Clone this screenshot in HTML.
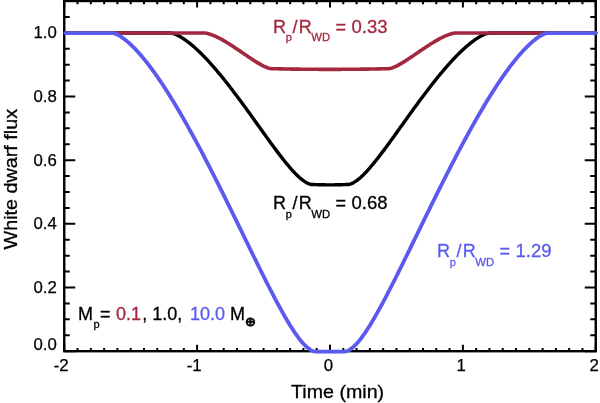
<!DOCTYPE html>
<html><head><meta charset="utf-8"><title>White dwarf flux</title>
<style>
html,body{margin:0;padding:0;background:#fff;}
body{width:600px;height:403px;overflow:hidden;}
svg{display:block;font-family:"Liberation Sans",Arial,Helvetica,sans-serif;}
</style></head><body>
<svg width="600" height="403" viewBox="0 0 600 403">
<rect width="600" height="403" fill="#fff"/>
<rect x="64.25" y="1.00" width="531.50" height="350.20" fill="none" stroke="#000" stroke-width="2.4"/>
<path d="M64.25 351.20v-6.40M64.25 1.00v6.40M77.54 351.20v-3.30M77.54 1.00v3.30M90.82 351.20v-3.30M90.82 1.00v3.30M104.11 351.20v-3.30M104.11 1.00v3.30M117.40 351.20v-3.30M117.40 1.00v3.30M130.69 351.20v-3.30M130.69 1.00v3.30M143.98 351.20v-3.30M143.98 1.00v3.30M157.26 351.20v-3.30M157.26 1.00v3.30M170.55 351.20v-3.30M170.55 1.00v3.30M183.84 351.20v-3.30M183.84 1.00v3.30M197.12 351.20v-6.40M197.12 1.00v6.40M210.41 351.20v-3.30M210.41 1.00v3.30M223.70 351.20v-3.30M223.70 1.00v3.30M236.99 351.20v-3.30M236.99 1.00v3.30M250.28 351.20v-3.30M250.28 1.00v3.30M263.56 351.20v-3.30M263.56 1.00v3.30M276.85 351.20v-3.30M276.85 1.00v3.30M290.14 351.20v-3.30M290.14 1.00v3.30M303.43 351.20v-3.30M303.43 1.00v3.30M316.71 351.20v-3.30M316.71 1.00v3.30M330.00 351.20v-6.40M330.00 1.00v6.40M343.29 351.20v-3.30M343.29 1.00v3.30M356.58 351.20v-3.30M356.58 1.00v3.30M369.86 351.20v-3.30M369.86 1.00v3.30M383.15 351.20v-3.30M383.15 1.00v3.30M396.44 351.20v-3.30M396.44 1.00v3.30M409.73 351.20v-3.30M409.73 1.00v3.30M423.01 351.20v-3.30M423.01 1.00v3.30M436.30 351.20v-3.30M436.30 1.00v3.30M449.59 351.20v-3.30M449.59 1.00v3.30M462.88 351.20v-6.40M462.88 1.00v6.40M476.16 351.20v-3.30M476.16 1.00v3.30M489.45 351.20v-3.30M489.45 1.00v3.30M502.74 351.20v-3.30M502.74 1.00v3.30M516.03 351.20v-3.30M516.03 1.00v3.30M529.31 351.20v-3.30M529.31 1.00v3.30M542.60 351.20v-3.30M542.60 1.00v3.30M555.89 351.20v-3.30M555.89 1.00v3.30M569.17 351.20v-3.30M569.17 1.00v3.30M582.46 351.20v-3.30M582.46 1.00v3.30M595.75 351.20v-6.40M595.75 1.00v6.40M64.25 351.20h11.00M595.75 351.20h-11.00M64.25 335.28h5.50M595.75 335.28h-5.50M64.25 319.36h5.50M595.75 319.36h-5.50M64.25 303.45h5.50M595.75 303.45h-5.50M64.25 287.53h11.00M595.75 287.53h-11.00M64.25 271.61h5.50M595.75 271.61h-5.50M64.25 255.69h5.50M595.75 255.69h-5.50M64.25 239.77h5.50M595.75 239.77h-5.50M64.25 223.85h11.00M595.75 223.85h-11.00M64.25 207.94h5.50M595.75 207.94h-5.50M64.25 192.02h5.50M595.75 192.02h-5.50M64.25 176.10h5.50M595.75 176.10h-5.50M64.25 160.18h11.00M595.75 160.18h-11.00M64.25 144.26h5.50M595.75 144.26h-5.50M64.25 128.35h5.50M595.75 128.35h-5.50M64.25 112.43h5.50M595.75 112.43h-5.50M64.25 96.51h11.00M595.75 96.51h-11.00M64.25 80.59h5.50M595.75 80.59h-5.50M64.25 64.67h5.50M595.75 64.67h-5.50M64.25 48.75h5.50M595.75 48.75h-5.50M64.25 32.84h11.00M595.75 32.84h-11.00M64.25 16.92h5.50M595.75 16.92h-5.50M64.25 1.00h5.50M595.75 1.00h-5.50" fill="none" stroke="#000" stroke-width="2"/>
<path d="M65.40 33.04 L170.55 33.04 L171.88 33.23 L173.21 33.56 L174.54 34.00 L175.86 34.53 L177.19 35.13 L178.52 35.80 L179.85 36.52 L181.18 37.29 L182.51 38.10 L183.84 38.97 L185.17 39.88 L186.50 40.83 L187.82 41.83 L189.15 42.85 L190.48 43.91 L191.81 45.00 L193.14 46.13 L194.47 47.29 L195.80 48.49 L197.12 49.72 L198.45 50.97 L199.78 52.24 L201.11 53.54 L202.44 54.87 L203.77 56.22 L205.10 57.60 L206.43 59.01 L207.75 60.43 L209.08 61.87 L210.41 63.34 L211.74 64.82 L213.07 66.33 L214.40 67.85 L215.73 69.41 L217.06 70.98 L218.38 72.55 L219.71 74.15 L221.04 75.76 L222.37 77.39 L223.70 79.03 L225.03 80.70 L226.36 82.38 L227.69 84.06 L229.01 85.76 L230.34 87.47 L231.67 89.20 L233.00 90.93 L234.33 92.69 L235.66 94.45 L236.99 96.22 L238.32 98.00 L239.65 99.79 L240.97 101.58 L242.30 103.38 L243.63 105.21 L244.96 107.03 L246.29 108.86 L247.62 110.69 L248.95 112.53 L250.28 114.36 L251.60 116.21 L252.93 118.07 L254.26 119.93 L255.59 121.78 L256.92 123.64 L258.25 125.50 L259.58 127.35 L260.90 129.21 L262.23 131.07 L263.56 132.93 L264.89 134.78 L266.22 136.63 L267.55 138.47 L268.88 140.30 L270.21 142.13 L271.53 143.96 L272.86 145.77 L274.19 147.58 L275.52 149.36 L276.85 151.13 L278.18 152.89 L279.51 154.63 L280.84 156.37 L282.17 158.09 L283.49 159.78 L284.82 161.44 L286.15 163.07 L287.48 164.67 L288.81 166.25 L290.14 167.81 L291.47 169.33 L292.79 170.80 L294.12 172.23 L295.45 173.61 L296.78 174.93 L298.11 176.21 L299.44 177.44 L300.77 178.60 L302.10 179.68 L303.43 180.69 L304.75 181.60 L306.08 182.41 L307.41 183.14 L308.74 183.75 L310.07 184.23 L311.40 184.48 L312.73 184.53 L314.06 184.57 L315.38 184.61 L316.71 184.65 L318.04 184.69 L319.37 184.74 L320.70 184.77 L322.03 184.80 L323.36 184.80 L324.69 184.81 L326.01 184.83 L327.34 184.84 L328.67 184.86 L330.00 184.86 L331.33 184.86 L332.66 184.84 L333.99 184.83 L335.31 184.81 L336.64 184.80 L337.97 184.80 L339.30 184.77 L340.63 184.74 L341.96 184.69 L343.29 184.65 L344.62 184.61 L345.94 184.57 L347.27 184.53 L348.60 184.48 L349.93 184.23 L351.26 183.75 L352.59 183.14 L353.92 182.41 L355.25 181.60 L356.58 180.69 L357.90 179.68 L359.23 178.60 L360.56 177.44 L361.89 176.21 L363.22 174.93 L364.55 173.61 L365.88 172.23 L367.21 170.80 L368.53 169.33 L369.86 167.81 L371.19 166.25 L372.52 164.67 L373.85 163.07 L375.18 161.44 L376.51 159.78 L377.83 158.09 L379.16 156.37 L380.49 154.63 L381.82 152.89 L383.15 151.13 L384.48 149.36 L385.81 147.58 L387.14 145.77 L388.46 143.96 L389.79 142.13 L391.12 140.30 L392.45 138.47 L393.78 136.63 L395.11 134.78 L396.44 132.93 L397.77 131.07 L399.10 129.21 L400.42 127.35 L401.75 125.50 L403.08 123.64 L404.41 121.78 L405.74 119.93 L407.07 118.07 L408.40 116.21 L409.73 114.36 L411.05 112.53 L412.38 110.69 L413.71 108.86 L415.04 107.03 L416.37 105.21 L417.70 103.38 L419.03 101.58 L420.36 99.79 L421.68 98.00 L423.01 96.22 L424.34 94.45 L425.67 92.69 L427.00 90.93 L428.33 89.20 L429.66 87.47 L430.99 85.76 L432.31 84.06 L433.64 82.38 L434.97 80.70 L436.30 79.03 L437.63 77.39 L438.96 75.76 L440.29 74.15 L441.62 72.55 L442.94 70.98 L444.27 69.41 L445.60 67.85 L446.93 66.33 L448.26 64.82 L449.59 63.34 L450.92 61.87 L452.25 60.43 L453.57 59.01 L454.90 57.60 L456.23 56.22 L457.56 54.87 L458.89 53.54 L460.22 52.24 L461.55 50.97 L462.88 49.72 L464.20 48.49 L465.53 47.29 L466.86 46.13 L468.19 45.00 L469.52 43.91 L470.85 42.85 L472.18 41.83 L473.50 40.83 L474.83 39.88 L476.16 38.97 L477.49 38.10 L478.82 37.29 L480.15 36.52 L481.48 35.80 L482.81 35.13 L484.13 34.53 L485.46 34.00 L486.79 33.56 L488.12 33.23 L489.45 33.04 L595.75 33.04" fill="none" stroke="#000" stroke-width="3.4" stroke-linejoin="round" stroke-linecap="round"/>
<path d="M65.40 33.04 L203.77 33.04 L205.10 33.07 L206.43 33.26 L207.75 33.56 L209.08 33.92 L210.41 34.34 L211.74 34.81 L213.07 35.32 L214.40 35.88 L215.73 36.47 L217.06 37.10 L218.38 37.75 L219.71 38.42 L221.04 39.13 L222.37 39.86 L223.70 40.62 L225.03 41.40 L226.36 42.19 L227.69 43.00 L229.01 43.82 L230.34 44.66 L231.67 45.51 L233.00 46.38 L234.33 47.26 L235.66 48.14 L236.99 49.03 L238.32 49.93 L239.65 50.83 L240.97 51.74 L242.30 52.65 L243.63 53.56 L244.96 54.47 L246.29 55.38 L247.62 56.28 L248.95 57.18 L250.28 58.07 L251.60 58.95 L252.93 59.82 L254.26 60.69 L255.59 61.53 L256.92 62.35 L258.25 63.15 L259.58 63.92 L260.90 64.67 L262.23 65.39 L263.56 66.07 L264.89 66.70 L266.22 67.27 L267.55 67.78 L268.88 68.21 L270.21 68.52 L271.53 68.63 L272.86 68.68 L274.19 68.72 L275.52 68.75 L276.85 68.78 L278.18 68.81 L279.51 68.84 L280.84 68.87 L282.17 68.91 L283.49 68.94 L284.82 68.96 L286.15 68.98 L287.48 69.00 L288.81 69.02 L290.14 69.04 L291.47 69.08 L292.79 69.10 L294.12 69.12 L295.45 69.12 L296.78 69.14 L298.11 69.16 L299.44 69.17 L300.77 69.20 L302.10 69.21 L303.43 69.23 L304.75 69.23 L306.08 69.24 L307.41 69.25 L308.74 69.26 L310.07 69.28 L311.40 69.30 L312.73 69.30 L314.06 69.30 L315.38 69.31 L316.71 69.31 L318.04 69.32 L319.37 69.33 L320.70 69.34 L322.03 69.34 L323.36 69.34 L324.69 69.34 L326.01 69.34 L327.34 69.34 L328.67 69.35 L330.00 69.36 L331.33 69.35 L332.66 69.34 L333.99 69.34 L335.31 69.34 L336.64 69.34 L337.97 69.34 L339.30 69.34 L340.63 69.33 L341.96 69.32 L343.29 69.31 L344.62 69.31 L345.94 69.30 L347.27 69.30 L348.60 69.30 L349.93 69.28 L351.26 69.26 L352.59 69.25 L353.92 69.24 L355.25 69.23 L356.58 69.23 L357.90 69.21 L359.23 69.20 L360.56 69.17 L361.89 69.16 L363.22 69.14 L364.55 69.12 L365.88 69.12 L367.21 69.10 L368.53 69.08 L369.86 69.04 L371.19 69.02 L372.52 69.00 L373.85 68.98 L375.18 68.96 L376.51 68.94 L377.83 68.91 L379.16 68.87 L380.49 68.84 L381.82 68.81 L383.15 68.78 L384.48 68.75 L385.81 68.72 L387.14 68.68 L388.46 68.63 L389.79 68.52 L391.12 68.21 L392.45 67.78 L393.78 67.27 L395.11 66.70 L396.44 66.07 L397.77 65.39 L399.10 64.67 L400.42 63.92 L401.75 63.15 L403.08 62.35 L404.41 61.53 L405.74 60.69 L407.07 59.82 L408.40 58.95 L409.73 58.07 L411.05 57.18 L412.38 56.28 L413.71 55.38 L415.04 54.47 L416.37 53.56 L417.70 52.65 L419.03 51.74 L420.36 50.83 L421.68 49.93 L423.01 49.03 L424.34 48.14 L425.67 47.26 L427.00 46.38 L428.33 45.51 L429.66 44.66 L430.99 43.82 L432.31 43.00 L433.64 42.19 L434.97 41.40 L436.30 40.62 L437.63 39.86 L438.96 39.13 L440.29 38.42 L441.62 37.75 L442.94 37.10 L444.27 36.47 L445.60 35.88 L446.93 35.32 L448.26 34.81 L449.59 34.34 L450.92 33.92 L452.25 33.56 L453.57 33.26 L454.90 33.07 L456.23 33.04 L595.75 33.04" fill="none" stroke="#a3283f" stroke-width="3.6" stroke-linejoin="round" stroke-linecap="round"/>
<path d="M65.40 33.04 L112.08 33.04 L113.41 33.19 L114.74 33.57 L116.07 34.08 L117.40 34.68 L118.73 35.37 L120.06 36.15 L121.39 36.99 L122.72 37.91 L124.04 38.88 L125.37 39.90 L126.70 40.98 L128.03 42.10 L129.36 43.28 L130.69 44.51 L132.02 45.79 L133.34 47.10 L134.67 48.45 L136.00 49.84 L137.33 51.27 L138.66 52.74 L139.99 54.24 L141.32 55.79 L142.65 57.37 L143.98 58.97 L145.30 60.61 L146.63 62.28 L147.96 63.98 L149.29 65.72 L150.62 67.49 L151.95 69.28 L153.28 71.09 L154.61 72.93 L155.93 74.80 L157.26 76.70 L158.59 78.63 L159.92 80.58 L161.25 82.56 L162.58 84.55 L163.91 86.57 L165.24 88.61 L166.56 90.68 L167.89 92.77 L169.22 94.88 L170.55 97.01 L171.88 99.16 L173.21 101.33 L174.54 103.51 L175.86 105.73 L177.19 107.96 L178.52 110.21 L179.85 112.48 L181.18 114.76 L182.51 117.06 L183.84 119.37 L185.17 121.71 L186.50 124.07 L187.82 126.44 L189.15 128.82 L190.48 131.22 L191.81 133.63 L193.14 136.05 L194.47 138.50 L195.80 140.96 L197.12 143.43 L198.45 145.91 L199.78 148.40 L201.11 150.91 L202.44 153.42 L203.77 155.96 L205.10 158.51 L206.43 161.07 L207.75 163.64 L209.08 166.21 L210.41 168.79 L211.74 171.38 L213.07 173.99 L214.40 176.61 L215.73 179.24 L217.06 181.88 L218.38 184.51 L219.71 187.16 L221.04 189.81 L222.37 192.47 L223.70 195.14 L225.03 197.82 L226.36 200.51 L227.69 203.19 L229.01 205.89 L230.34 208.58 L231.67 211.27 L233.00 213.98 L234.33 216.70 L235.66 219.42 L236.99 222.12 L238.32 224.85 L239.65 227.56 L240.97 230.28 L242.30 233.01 L243.63 235.73 L244.96 238.47 L246.29 241.18 L247.62 243.90 L248.95 246.62 L250.28 249.33 L251.60 252.05 L252.93 254.77 L254.26 257.49 L255.59 260.18 L256.92 262.88 L258.25 265.56 L259.58 268.24 L260.90 270.92 L262.23 273.59 L263.56 276.26 L264.89 278.89 L266.22 281.53 L267.55 284.15 L268.88 286.75 L270.21 289.34 L271.53 291.93 L272.86 294.49 L274.19 297.03 L275.52 299.55 L276.85 302.05 L278.18 304.51 L279.51 306.96 L280.84 309.40 L282.17 311.79 L283.49 314.15 L284.82 316.48 L286.15 318.77 L287.48 321.02 L288.81 323.23 L290.14 325.40 L291.47 327.53 L292.79 329.58 L294.12 331.60 L295.45 333.55 L296.78 335.42 L298.11 337.25 L299.44 339.00 L300.77 340.66 L302.10 342.23 L303.43 343.74 L304.75 345.12 L306.08 346.41 L307.41 347.59 L308.74 348.65 L310.07 349.58 L311.40 350.36 L312.73 351.00 L314.06 351.46 L315.38 351.65 L344.62 351.65 L345.94 351.46 L347.27 351.00 L348.60 350.36 L349.93 349.58 L351.26 348.65 L352.59 347.59 L353.92 346.41 L355.25 345.12 L356.58 343.74 L357.90 342.23 L359.23 340.66 L360.56 339.00 L361.89 337.25 L363.22 335.42 L364.55 333.55 L365.88 331.60 L367.21 329.58 L368.53 327.53 L369.86 325.40 L371.19 323.23 L372.52 321.02 L373.85 318.77 L375.18 316.48 L376.51 314.15 L377.83 311.79 L379.16 309.40 L380.49 306.96 L381.82 304.51 L383.15 302.05 L384.48 299.55 L385.81 297.03 L387.14 294.49 L388.46 291.93 L389.79 289.34 L391.12 286.75 L392.45 284.15 L393.78 281.53 L395.11 278.89 L396.44 276.26 L397.77 273.59 L399.10 270.92 L400.42 268.24 L401.75 265.56 L403.08 262.88 L404.41 260.18 L405.74 257.49 L407.07 254.77 L408.40 252.05 L409.73 249.33 L411.05 246.62 L412.38 243.90 L413.71 241.18 L415.04 238.47 L416.37 235.73 L417.70 233.01 L419.03 230.28 L420.36 227.56 L421.68 224.85 L423.01 222.12 L424.34 219.42 L425.67 216.70 L427.00 213.98 L428.33 211.27 L429.66 208.58 L430.99 205.89 L432.31 203.19 L433.64 200.51 L434.97 197.82 L436.30 195.14 L437.63 192.47 L438.96 189.81 L440.29 187.16 L441.62 184.51 L442.94 181.88 L444.27 179.24 L445.60 176.61 L446.93 173.99 L448.26 171.38 L449.59 168.79 L450.92 166.21 L452.25 163.64 L453.57 161.07 L454.90 158.51 L456.23 155.96 L457.56 153.42 L458.89 150.91 L460.22 148.40 L461.55 145.91 L462.88 143.43 L464.20 140.96 L465.53 138.50 L466.86 136.05 L468.19 133.63 L469.52 131.22 L470.85 128.82 L472.18 126.44 L473.50 124.07 L474.83 121.71 L476.16 119.37 L477.49 117.06 L478.82 114.76 L480.15 112.48 L481.48 110.21 L482.81 107.96 L484.13 105.73 L485.46 103.51 L486.79 101.33 L488.12 99.16 L489.45 97.01 L490.78 94.88 L492.11 92.77 L493.44 90.68 L494.77 88.61 L496.09 86.57 L497.42 84.55 L498.75 82.56 L500.08 80.58 L501.41 78.63 L502.74 76.70 L504.07 74.80 L505.40 72.93 L506.72 71.09 L508.05 69.28 L509.38 67.49 L510.71 65.72 L512.04 63.98 L513.37 62.28 L514.70 60.61 L516.02 58.97 L517.35 57.37 L518.68 55.79 L520.01 54.24 L521.34 52.74 L522.67 51.27 L524.00 49.84 L525.33 48.45 L526.65 47.10 L527.98 45.79 L529.31 44.51 L530.64 43.28 L531.97 42.10 L533.30 40.98 L534.63 39.90 L535.96 38.88 L537.29 37.91 L538.61 36.99 L539.94 36.15 L541.27 35.37 L542.60 34.68 L543.93 34.08 L545.26 33.57 L546.59 33.19 L547.91 33.04 L595.75 33.04" fill="none" stroke="#5a5aee" stroke-width="3.8" stroke-linejoin="round" stroke-linecap="round"/>
<g font-size="16.8" fill="#000" stroke="#000" stroke-width="0.25">
<text x="61.25" y="370.9" text-anchor="middle">-2</text>
<text x="194.12" y="370.9" text-anchor="middle">-1</text>
<text x="328.30" y="370.9" text-anchor="middle">0</text>
<text x="461.18" y="370.9" text-anchor="middle">1</text>
<text x="594.05" y="370.9" text-anchor="middle">2</text>
<text x="56.8" y="38.24" text-anchor="end">1.0</text>
<text x="56.8" y="101.91" text-anchor="end">0.8</text>
<text x="56.8" y="165.58" text-anchor="end">0.6</text>
<text x="56.8" y="229.25" text-anchor="end">0.4</text>
<text x="56.8" y="292.93" text-anchor="end">0.2</text>
<text x="56.8" y="349.9" text-anchor="end">0.0</text>
</g>
<text x="337.6" y="397.5" font-size="18.5" text-anchor="middle" textLength="93" lengthAdjust="spacingAndGlyphs" stroke="#000" stroke-width="0.3">Time (min)</text>
<text transform="translate(16.9 179.2) rotate(-90)" font-size="17.5" text-anchor="middle" textLength="140.5" lengthAdjust="spacingAndGlyphs" stroke="#000" stroke-width="0.3">White dwarf flux</text>
<g fill="#a3283f" stroke="#a3283f" stroke-width="0.3" font-size="18"><text x="273.00" y="33.10">R</text><text x="285.80" y="41.30" font-size="11">p</text><text x="292.50" y="33.10">/</text><text x="298.65" y="33.10">R</text><text x="311.30" y="41.30" font-size="11.3">WD</text><text x="335.40" y="33.10">=</text><text x="351.50" y="33.10" font-size="18.5">0.33</text></g>
<g fill="#000" stroke="#000" stroke-width="0.3" font-size="18"><text x="273.00" y="208.70">R</text><text x="285.80" y="217.50" font-size="11">p</text><text x="292.50" y="208.70">/</text><text x="298.65" y="208.70">R</text><text x="311.30" y="217.50" font-size="11.3">WD</text><text x="335.40" y="208.70">=</text><text x="351.50" y="208.70" font-size="18.5">0.68</text></g>
<g fill="#5a5aee" stroke="#5a5aee" stroke-width="0.3" font-size="18"><text x="437.00" y="257.00">R</text><text x="449.80" y="265.90" font-size="11">p</text><text x="456.50" y="257.00">/</text><text x="462.65" y="257.00">R</text><text x="475.30" y="265.90" font-size="11.3">WD</text><text x="499.40" y="257.00">=</text><text x="515.50" y="257.00" font-size="18.5">1.29</text></g>
<g font-size="18" fill="#000" stroke="#000" stroke-width="0.3">
<text y="319.6"><tspan x="78">M</tspan><tspan x="93.5" dy="8.4" font-size="11">p</tspan><tspan x="100" dy="-8.4">=</tspan> <tspan x="116" fill="#a3283f" stroke="#a3283f">0.1</tspan><tspan x="142.3">,</tspan> <tspan x="152.3">1.0,</tspan> <tspan x="190" fill="#5a5aee" stroke="#5a5aee">10.0</tspan> <tspan x="230">M</tspan></text>
<text x="245.0" y="325.8" font-size="12.8" font-family="DejaVu Sans, sans-serif" stroke-width="0.8">&#8853;</text>
</g>
</svg>
</body></html>
